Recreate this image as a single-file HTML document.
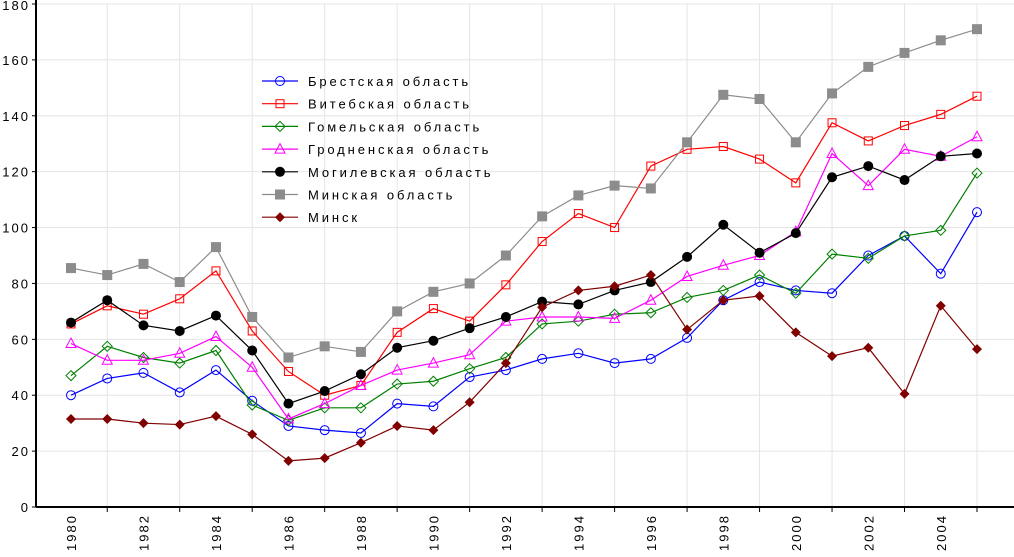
<!DOCTYPE html>
<html><head><meta charset="utf-8"><style>
body{margin:0;background:#fff;}
svg text{font-family:"Liberation Sans",sans-serif;font-size:13px;letter-spacing:2px;fill:#000;}
svg text.lg{letter-spacing:2.9px;}
</style></head><body>
<svg id="chart" width="1014" height="552" xmlns="http://www.w3.org/2000/svg">
<g id="grid"></g>
<g id="axes"></g>
<g id="series"></g>
<g id="legend"></g>
</svg>
<script>
const years=[1980,1981,1982,1983,1984,1985,1986,1987,1988,1989,1990,1991,1992,1993,1994,1995,1996,1997,1998,1999,2000,2001,2002,2003,2004,2005];
const yTicks=[0,20,40,60,80,100,120,140,160,180];
const brest=[40,46,48,41,49,38,29,27.5,26.5,37,36,46.5,49,53,55,51.5,53,60.5,74,80.5,77.5,76.5,90,97,83.5,105.5];
const vitebsk=[65.5,72,69,74.5,84.5,63,48.5,40,43.5,62.5,71,66.5,79.5,95,105,100,122,128,129,124.5,116,137.5,131,136.5,140.5,147];
const gomel=[47,57.5,53.5,51.5,56,36.5,31,35.5,35.5,44,45,49.5,53.5,65.5,66.5,69,69.5,75,77.5,83,76.5,90.5,89,97,99,119.5];
const grodno=[58.5,52.5,52.5,55,61,50,31.5,37,43.5,49,51.5,54.5,66.5,68,68,67.5,74,82.5,86.5,90,98.5,126.5,115,128,125.5,132.5];
const mogilev=[66,74,65,63,68.5,56,37,41.5,47.5,57,59.5,64,68,73.5,72.5,77.5,80.5,89.5,101,91,98,118,122,117,125.5,126.5];
const minskObl=[85.5,83,87,80.5,93,68,53.5,57.5,55.5,70,77,80,90,104,111.5,115,114,130.5,147.5,146,130.5,148,157.5,162.5,167,171];
const minsk=[31.5,31.5,30,29.5,32.5,26,16.5,17.5,23,29,27.5,37.5,51.5,71.5,77.5,79,83,63.5,74,75.5,62.5,54,57,40.5,72,56.5];
const seriesNames=["Брестская область","Витебская область","Гомельская область","Гродненская область","Могилевская область","Минская область","Минск"];

const NS="http://www.w3.org/2000/svg";
const X0=36,X1=1014,YB=507,YT=4;
const x=i=>71+(977-71)/25*i;
const y=v=>YB-(YB-YT)*v/180;
function mk(tag,parent,attrs){const e=document.createElementNS(NS,tag);for(const k in attrs)e.setAttribute(k,attrs[k]);parent.appendChild(e);return e;}
const grid=document.getElementById('grid'),axes=document.getElementById('axes'),ser=document.getElementById('series'),leg=document.getElementById('legend');
yTicks.forEach(t=>{
 if(t>0){const l=mk('line',grid,{x1:X0,x2:X1,y1:y(t),y2:y(t),stroke:'#e4e4e4'});
 
 }
 const tx=mk('text',axes,{x:30,y:Math.max(y(t)+5,10),'text-anchor':'end'});tx.textContent=t;
 
 
 mk('line',axes,{x1:X0-4,x2:X0,y1:y(t),y2:y(t),stroke:'#000'});
});
years.forEach((yr,i)=>{
 if(i%2===1){const g=mk('line',grid,{x1:x(i),x2:x(i),y1:YT,y2:YB,stroke:'#e4e4e4'});
 
 
 mk('line',axes,{x1:x(i),x2:x(i),y1:YB,y2:YB+5,stroke:'#000'});}
 else{const t=mk('text',axes,{transform:`translate(${x(i)+5},551) rotate(-90)`});t.textContent=yr;
 
 }
});
mk('line',axes,{x1:X0,x2:X0,y1:0,y2:YB,stroke:'#000','stroke-width':2});
mk('line',axes,{x1:X0,x2:X1,y1:YB,y2:YB,stroke:'#000','stroke-width':2});
function marker(p,type,col,cx,cy){
 if(type==='circle')return mk('circle',p,{cx,cy,r:4.5,fill:'none',stroke:col});
 if(type==='square')return mk('rect',p,{x:cx-4,y:cy-4,width:8,height:8,fill:'none',stroke:col});
 if(type==='diamond')return mk('polygon',p,{points:`${cx},${cy-5} ${cx+5},${cy} ${cx},${cy+5} ${cx-5},${cy}`,fill:'none',stroke:col});
 if(type==='tri')return mk('polygon',p,{points:`${cx},${cy-5.5} ${cx+5},${cy+4} ${cx-5},${cy+4}`,fill:'none',stroke:col});
 if(type==='dot')return mk('circle',p,{cx,cy,r:5,fill:col});
 if(type==='fsq')return mk('rect',p,{x:cx-5,y:cy-5,width:10,height:10,fill:col});
 if(type==='fdia')return mk('polygon',p,{points:`${cx},${cy-5} ${cx+5},${cy} ${cx},${cy+5} ${cx-5},${cy}`,fill:col});
}
const defs=[[brest,'#0000ff','circle','brest'],[vitebsk,'#ff0000','square','vitebsk'],[gomel,'#008000','diamond','gomel'],[grodno,'#ff00ff','tri','grodno'],[mogilev,'#000000','dot','mogilev'],[minskObl,'#8c8c8c','fsq','minsk-oblast'],[minsk,'#800000','fdia','minsk']];
defs.forEach(([d,col,type,nm],si)=>{
 const g=mk('g',ser,{});
 
 
 mk('polyline',g,{points:d.map((v,i)=>x(i)+','+y(v)).join(' '),fill:'none',stroke:col,'stroke-width':1.2});
 d.forEach((v,i)=>{const m=marker(g,type,col,x(i),y(v));
  
  });
 const ly=81+si*22.7;
 const lg=mk('g',leg,{});
 
 
 mk('line',lg,{x1:262,x2:298,y1:ly,y2:ly,stroke:col,'stroke-width':1.2});
 marker(lg,type,col,280,ly);
 const t=mk('text',lg,{x:308,y:ly+5,class:'lg'});t.textContent=seriesNames[si];
});
</script>
</body></html>
